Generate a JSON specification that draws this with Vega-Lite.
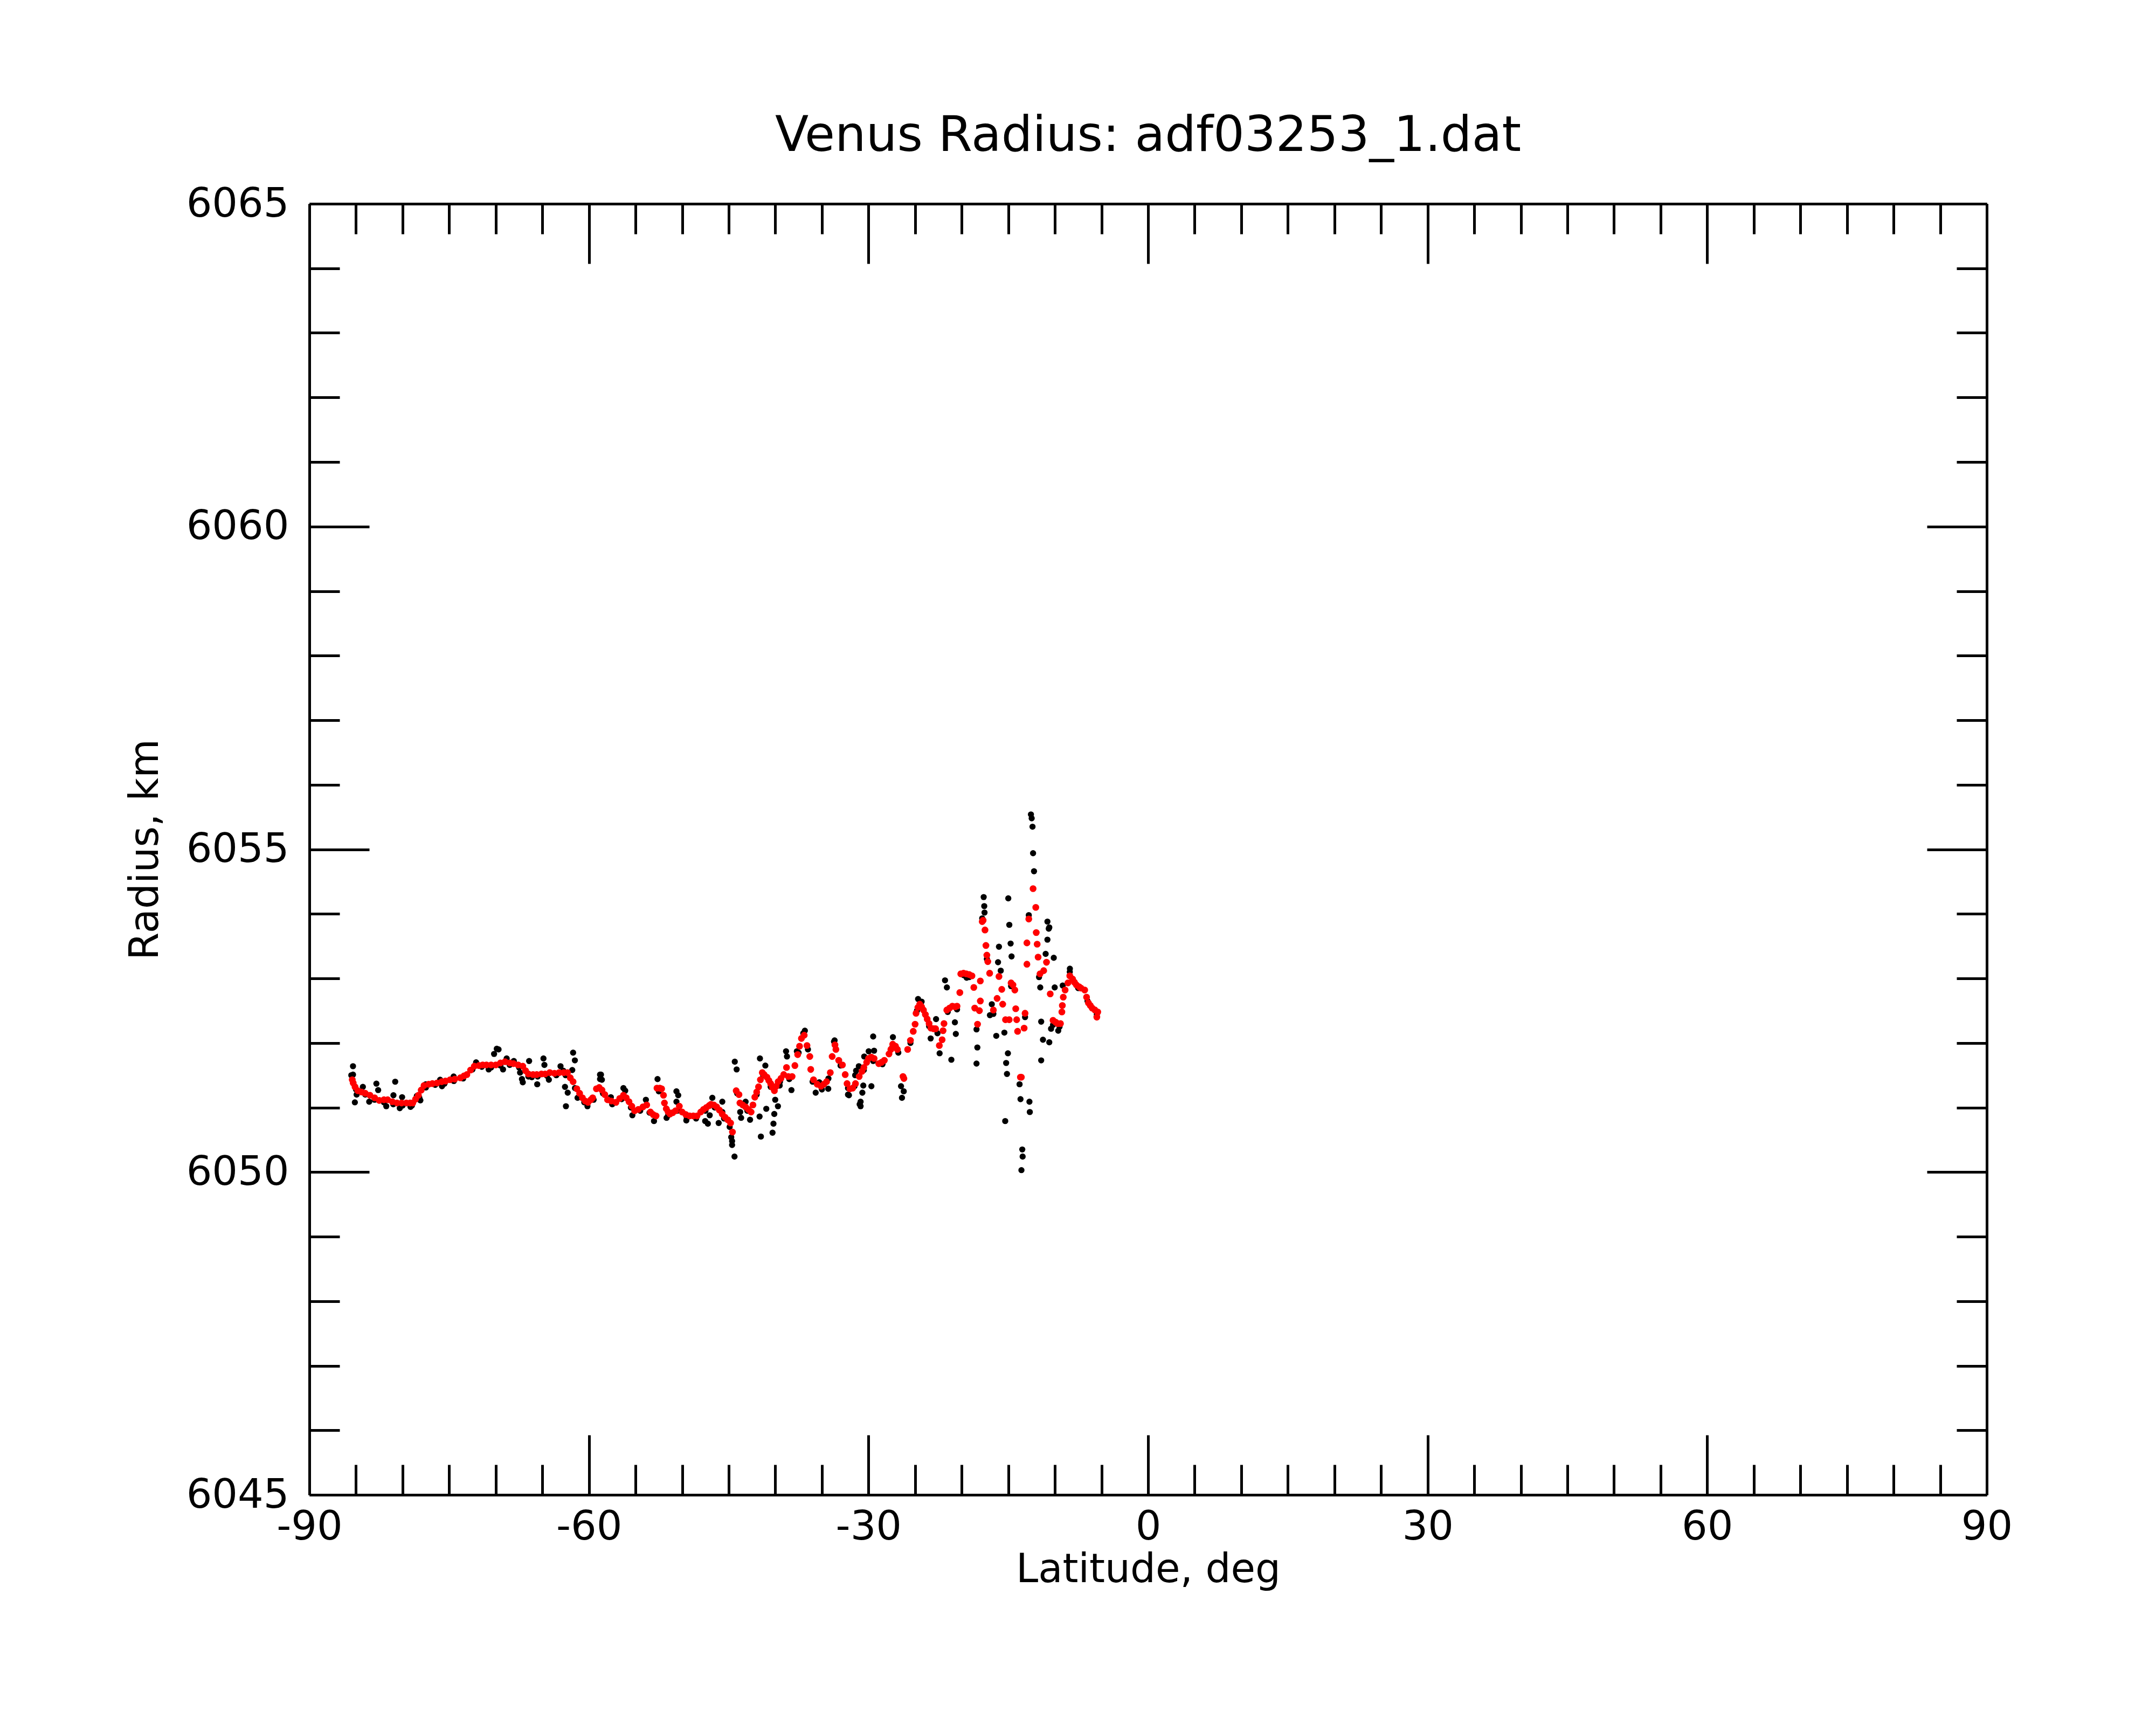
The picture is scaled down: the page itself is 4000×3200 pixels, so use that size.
{
  "$schema": "https://vega.github.io/schema/vega-lite/v6.json",
  "width": 3112,
  "height": 2395,
  "autosize": {"type": "none"},
  "padding": {"left": 574, "top": 378, "right": 314, "bottom": 427},
  "background": "white",
  "title": {
    "text": "Venus Radius: adf03253_1.dat",
    "font": "DejaVu Sans",
    "fontSize": 91,
    "fontWeight": "normal",
    "color": "black",
    "baseline": "alphabetic",
    "offset": -30
  },
  "config": {
    "view": {"stroke": null},
    "axis": {
      "grid": false,
      "labelFont": "DejaVu Sans",
      "titleFont": "DejaVu Sans",
      "labelFontSize": 75,
      "titleFontSize": 74,
      "titleFontWeight": "normal",
      "labelColor": "black",
      "titleColor": "black",
      "tickColor": "black",
      "domainColor": "black",
      "tickWidth": 5,
      "domainWidth": 5,
      "labelFlush": false,
      "labelOverlap": false,
      "labelBound": false,
      "labelLimit": 0,
      "labelExpr": "'' + datum.value"
    }
  },
  "datasets": {
    "raw": [
      {"lat": -85.5, "r": 6051.50}, {"lat": -85.0, "r": 6051.28}, {"lat": -84.0, "r": 6051.20}, {"lat": -83.0, "r": 6051.12},
      {"lat": -82.0, "r": 6051.08}, {"lat": -81.0, "r": 6051.05}, {"lat": -80.0, "r": 6051.03}, {"lat": -79.0, "r": 6051.03},
      {"lat": -78.2, "r": 6051.15}, {"lat": -77.5, "r": 6051.31}, {"lat": -76.5, "r": 6051.35}, {"lat": -75.5, "r": 6051.37},
      {"lat": -74.5, "r": 6051.41}, {"lat": -73.5, "r": 6051.45}, {"lat": -72.5, "r": 6051.59}, {"lat": -71.5, "r": 6051.63},
      {"lat": -70.5, "r": 6051.62}, {"lat": -69.5, "r": 6051.65}, {"lat": -68.5, "r": 6051.66}, {"lat": -67.5, "r": 6051.62},
      {"lat": -66.5, "r": 6051.48}, {"lat": -65.5, "r": 6051.48}, {"lat": -64.5, "r": 6051.49}, {"lat": -63.5, "r": 6051.50},
      {"lat": -62.5, "r": 6051.50}, {"lat": -61.5, "r": 6051.30}, {"lat": -60.5, "r": 6051.08}, {"lat": -59.5, "r": 6051.12},
      {"lat": -58.5, "r": 6051.22}, {"lat": -57.5, "r": 6051.05}, {"lat": -56.5, "r": 6051.13}, {"lat": -55.5, "r": 6051.00},
      {"lat": -54.5, "r": 6050.95}, {"lat": -53.5, "r": 6050.92}, {"lat": -52.5, "r": 6051.25}, {"lat": -51.5, "r": 6050.88},
      {"lat": -50.5, "r": 6050.95}, {"lat": -49.5, "r": 6050.84}, {"lat": -48.5, "r": 6050.83}, {"lat": -47.5, "r": 6050.95},
      {"lat": -46.5, "r": 6051.00}, {"lat": -45.5, "r": 6050.83}, {"lat": -44.9, "r": 6050.70}, {"lat": -44.1, "r": 6051.22},
      {"lat": -43.0, "r": 6050.95}, {"lat": -42.0, "r": 6051.20}, {"lat": -41.3, "r": 6051.50}, {"lat": -40.5, "r": 6051.32},
      {"lat": -39.5, "r": 6051.40}, {"lat": -38.5, "r": 6051.44}, {"lat": -37.5, "r": 6051.85}, {"lat": -37.0, "r": 6052.15},
      {"lat": -36.5, "r": 6051.90}, {"lat": -36.0, "r": 6051.40}, {"lat": -35.0, "r": 6051.28}, {"lat": -34.3, "r": 6051.45},
      {"lat": -33.7, "r": 6052.02}, {"lat": -33.0, "r": 6051.65}, {"lat": -32.2, "r": 6051.30}, {"lat": -31.5, "r": 6051.33},
      {"lat": -30.5, "r": 6051.58}, {"lat": -29.5, "r": 6051.72}, {"lat": -28.5, "r": 6051.67}, {"lat": -27.5, "r": 6051.92},
      {"lat": -26.8, "r": 6051.85}, {"lat": -25.5, "r": 6052.00}, {"lat": -24.8, "r": 6052.50}, {"lat": -24.3, "r": 6052.64},
      {"lat": -23.5, "r": 6052.26}, {"lat": -22.6, "r": 6052.15}, {"lat": -21.5, "r": 6052.48}, {"lat": -20.5, "r": 6052.52},
      {"lat": -19.8, "r": 6053.05}, {"lat": -19.2, "r": 6053.02}, {"lat": -17.8, "r": 6053.93}, {"lat": -17.3, "r": 6053.30},
      {"lat": -16.6, "r": 6052.45}, {"lat": -14.7, "r": 6052.88}, {"lat": -13.2, "r": 6052.40}, {"lat": -12.8, "r": 6053.98},
      {"lat": -11.7, "r": 6053.02}, {"lat": -10.2, "r": 6052.28}, {"lat": -9.5, "r": 6052.25}, {"lat": -8.4, "r": 6053.10},
      {"lat": -7.5, "r": 6052.85}, {"lat": -6.5, "r": 6052.65}, {"lat": -5.5, "r": 6052.44},
      {"lat": -85.32, "r": 6051.64}, {"lat": -85.32, "r": 6051.51}, {"lat": -85.12, "r": 6051.08}, {"lat": -84.93, "r": 6051.20},
      {"lat": -84.26, "r": 6051.32}, {"lat": -83.58, "r": 6051.09}, {"lat": -82.81, "r": 6051.37}, {"lat": -82.62, "r": 6051.27},
      {"lat": -81.75, "r": 6051.02}, {"lat": -80.98, "r": 6051.19}, {"lat": -80.79, "r": 6051.40}, {"lat": -80.30, "r": 6050.99},
      {"lat": -80.05, "r": 6051.16}, {"lat": -79.15, "r": 6051.01}, {"lat": -78.47, "r": 6051.18}, {"lat": -78.09, "r": 6051.11},
      {"lat": -77.51, "r": 6051.36}, {"lat": -75.97, "r": 6051.43}, {"lat": -75.77, "r": 6051.33}, {"lat": -74.52, "r": 6051.48},
      {"lat": -72.11, "r": 6051.70}, {"lat": -70.76, "r": 6051.59}, {"lat": -70.18, "r": 6051.83}, {"lat": -69.89, "r": 6051.91},
      {"lat": -69.70, "r": 6051.90}, {"lat": -69.22, "r": 6051.59}, {"lat": -68.83, "r": 6051.76}, {"lat": -68.06, "r": 6051.72},
      {"lat": -67.39, "r": 6051.54}, {"lat": -67.19, "r": 6051.44}, {"lat": -67.10, "r": 6051.39}, {"lat": -66.42, "r": 6051.72},
      {"lat": -66.13, "r": 6051.47}, {"lat": -65.55, "r": 6051.36}, {"lat": -64.88, "r": 6051.76}, {"lat": -64.78, "r": 6051.66},
      {"lat": -64.30, "r": 6051.43}, {"lat": -63.05, "r": 6051.64}, {"lat": -62.76, "r": 6051.57}, {"lat": -62.57, "r": 6051.32},
      {"lat": -62.47, "r": 6051.02}, {"lat": -62.28, "r": 6051.23}, {"lat": -61.70, "r": 6051.85}, {"lat": -61.51, "r": 6051.73},
      {"lat": -61.79, "r": 6051.58}, {"lat": -61.22, "r": 6051.15}, {"lat": -60.16, "r": 6051.02}, {"lat": -58.81, "r": 6051.51},
      {"lat": -58.81, "r": 6051.44},
      {"lat": -58.71, "r": 6051.51}, {"lat": -58.61, "r": 6051.43}, {"lat": -57.65, "r": 6051.16}, {"lat": -56.30, "r": 6051.30},
      {"lat": -56.11, "r": 6051.26}, {"lat": -55.34, "r": 6050.88}, {"lat": -53.89, "r": 6051.12}, {"lat": -53.02, "r": 6050.79},
      {"lat": -52.64, "r": 6051.44}, {"lat": -50.61, "r": 6051.25}, {"lat": -50.42, "r": 6051.19}, {"lat": -50.61, "r": 6051.09},
      {"lat": -51.67, "r": 6050.84}, {"lat": -49.55, "r": 6050.80}, {"lat": -47.53, "r": 6050.79}, {"lat": -47.24, "r": 6050.75},
      {"lat": -47.04, "r": 6050.88}, {"lat": -46.76, "r": 6051.15}, {"lat": -46.08, "r": 6050.76}, {"lat": -45.69, "r": 6051.09},
      {"lat": -45.69, "r": 6050.93}, {"lat": -44.35, "r": 6051.71}, {"lat": -44.15, "r": 6051.59}, {"lat": -44.73, "r": 6050.54},
      {"lat": -44.64, "r": 6050.48}, {"lat": -44.64, "r": 6050.42}, {"lat": -44.38, "r": 6050.24}, {"lat": -43.77, "r": 6050.93},
      {"lat": -43.67, "r": 6050.84}, {"lat": -43.19, "r": 6051.09}, {"lat": -42.71, "r": 6050.81}, {"lat": -41.65, "r": 6051.76},
      {"lat": -41.07, "r": 6051.65}, {"lat": -41.69, "r": 6050.86}, {"lat": -41.55, "r": 6050.55}, {"lat": -40.97, "r": 6050.98},
      {"lat": -40.30, "r": 6050.61}, {"lat": -40.20, "r": 6050.75}, {"lat": -40.11, "r": 6050.90}, {"lat": -40.01, "r": 6051.12},
      {"lat": -39.72, "r": 6051.02}, {"lat": -39.53, "r": 6051.34}, {"lat": -38.85, "r": 6051.87}, {"lat": -38.75, "r": 6051.79},
      {"lat": -38.27, "r": 6051.27}, {"lat": -37.69, "r": 6051.87}, {"lat": -36.83, "r": 6052.19}, {"lat": -35.67, "r": 6051.23},
      {"lat": -35.28, "r": 6051.39}, {"lat": -34.32, "r": 6051.29}, {"lat": -33.64, "r": 6052.04}, {"lat": -33.16, "r": 6051.73},
      {"lat": -32.20, "r": 6051.20}, {"lat": -31.04, "r": 6051.64}, {"lat": -30.95, "r": 6051.05},
      {"lat": -29.50, "r": 6052.10}, {"lat": -29.98, "r": 6051.87}, {"lat": -29.40, "r": 6051.88}, {"lat": -30.46, "r": 6051.79},
      {"lat": -31.33, "r": 6051.57}, {"lat": -31.43, "r": 6051.50}, {"lat": -30.56, "r": 6051.34}, {"lat": -29.69, "r": 6051.33},
      {"lat": -30.66, "r": 6051.23}, {"lat": -30.85, "r": 6051.09}, {"lat": -30.85, "r": 6051.02}, {"lat": -32.10, "r": 6051.19},
      {"lat": -26.41, "r": 6051.15}, {"lat": -26.51, "r": 6051.33}, {"lat": -26.22, "r": 6051.25}, {"lat": -27.38, "r": 6052.09},
      {"lat": -24.68, "r": 6052.68}, {"lat": -23.33, "r": 6052.07}, {"lat": -22.75, "r": 6052.37}, {"lat": -22.37, "r": 6051.84},
      {"lat": -21.79, "r": 6052.97}, {"lat": -21.59, "r": 6052.86}, {"lat": -21.11, "r": 6051.74}, {"lat": -20.73, "r": 6052.32},
      {"lat": -20.63, "r": 6052.14}, {"lat": -19.47, "r": 6053.01}, {"lat": -18.32, "r": 6051.93}, {"lat": -18.41, "r": 6051.68},
      {"lat": -18.41, "r": 6052.21}, {"lat": -16.10, "r": 6053.25}, {"lat": -16.00, "r": 6053.49}, {"lat": -15.81, "r": 6053.12},
      {"lat": -16.29, "r": 6052.11}, {"lat": -15.42, "r": 6052.16}, {"lat": -15.04, "r": 6051.84}, {"lat": -15.23, "r": 6051.69},
      {"lat": -15.14, "r": 6051.52}, {"lat": -15.33, "r": 6050.79}, {"lat": -14.89, "r": 6053.83}, {"lat": -14.75, "r": 6053.54},
      {"lat": -14.65, "r": 6053.34}, {"lat": -13.79, "r": 6051.36}, {"lat": -13.69, "r": 6051.13}, {"lat": -12.73, "r": 6051.09},
      {"lat": -12.69, "r": 6050.93}, {"lat": -13.50, "r": 6050.35}, {"lat": -13.46, "r": 6050.24}, {"lat": -13.59, "r": 6050.03},
      {"lat": -11.57, "r": 6052.86}, {"lat": -11.47, "r": 6052.33}, {"lat": -11.47, "r": 6051.73}, {"lat": -11.28, "r": 6052.05},
      {"lat": -10.60, "r": 6052.01}, {"lat": -10.80, "r": 6053.88}, {"lat": -10.66, "r": 6053.77}, {"lat": -10.80, "r": 6053.60},
      {"lat": -10.99, "r": 6053.38}, {"lat": -10.12, "r": 6053.32}, {"lat": -10.02, "r": 6052.86}, {"lat": -9.16, "r": 6052.89},
      {"lat": -10.41, "r": 6052.22}, {"lat": -9.64, "r": 6052.19}, {"lat": -8.39, "r": 6053.15}, {"lat": -16.97, "r": 6052.43},
      {"lat": -16.77, "r": 6052.60},
      {"lat": -12.57, "r": 6055.54}, {"lat": -12.49, "r": 6055.48}, {"lat": -12.40, "r": 6055.35}, {"lat": -12.34, "r": 6054.94},
      {"lat": -12.24, "r": 6054.66}, {"lat": -17.64, "r": 6054.26}, {"lat": -17.58, "r": 6054.12}, {"lat": -17.55, "r": 6054.02},
      {"lat": -15.00, "r": 6054.24}, {"lat": -10.60, "r": 6053.79}
    ],
    "smooth": [
      {"lat": -85.4, "r": 6051.43}, {"lat": -85.3, "r": 6051.38}, {"lat": -85.1, "r": 6051.32}, {"lat": -84.8, "r": 6051.26},
      {"lat": -84.4, "r": 6051.24}, {"lat": -84.0, "r": 6051.22}, {"lat": -83.5, "r": 6051.19}, {"lat": -83.0, "r": 6051.15},
      {"lat": -82.5, "r": 6051.11}, {"lat": -82.0, "r": 6051.12}, {"lat": -81.6, "r": 6051.12}, {"lat": -81.1, "r": 6051.09},
      {"lat": -80.6, "r": 6051.07}, {"lat": -80.1, "r": 6051.07}, {"lat": -79.6, "r": 6051.07}, {"lat": -79.2, "r": 6051.07},
      {"lat": -78.9, "r": 6051.07}, {"lat": -78.6, "r": 6051.13}, {"lat": -78.3, "r": 6051.19}, {"lat": -78.0, "r": 6051.27},
      {"lat": -77.7, "r": 6051.34}, {"lat": -77.2, "r": 6051.36}, {"lat": -76.8, "r": 6051.37}, {"lat": -76.3, "r": 6051.38},
      {"lat": -75.8, "r": 6051.40}, {"lat": -75.4, "r": 6051.41}, {"lat": -74.9, "r": 6051.43}, {"lat": -74.4, "r": 6051.44},
      {"lat": -73.8, "r": 6051.46}, {"lat": -73.4, "r": 6051.49}, {"lat": -73.1, "r": 6051.51}, {"lat": -72.7, "r": 6051.58},
      {"lat": -72.3, "r": 6051.64}, {"lat": -71.8, "r": 6051.65}, {"lat": -71.4, "r": 6051.66}, {"lat": -71.0, "r": 6051.66},
      {"lat": -70.5, "r": 6051.66}, {"lat": -70.0, "r": 6051.66}, {"lat": -69.5, "r": 6051.69}, {"lat": -69.0, "r": 6051.71},
      {"lat": -68.5, "r": 6051.69}, {"lat": -68.1, "r": 6051.68}, {"lat": -67.6, "r": 6051.66}, {"lat": -67.1, "r": 6051.64},
      {"lat": -66.8, "r": 6051.57}, {"lat": -66.5, "r": 6051.52}, {"lat": -66.0, "r": 6051.51}, {"lat": -65.6, "r": 6051.51},
      {"lat": -65.1, "r": 6051.52}, {"lat": -64.7, "r": 6051.52}, {"lat": -64.2, "r": 6051.54}, {"lat": -63.7, "r": 6051.53},
      {"lat": -63.2, "r": 6051.54}, {"lat": -62.7, "r": 6051.54}, {"lat": -62.3, "r": 6051.54}, {"lat": -62.0, "r": 6051.46},
      {"lat": -61.7, "r": 6051.40}, {"lat": -61.3, "r": 6051.29}, {"lat": -61.0, "r": 6051.22}, {"lat": -60.7, "r": 6051.15},
      {"lat": -60.4, "r": 6051.10}, {"lat": -60.1, "r": 6051.08}, {"lat": -59.8, "r": 6051.12}, {"lat": -59.6, "r": 6051.15},
      {"lat": -59.2, "r": 6051.29}, {"lat": -58.9, "r": 6051.31}, {"lat": -58.6, "r": 6051.27}, {"lat": -58.3, "r": 6051.20},
      {"lat": -58.0, "r": 6051.12}, {"lat": -57.6, "r": 6051.10}, {"lat": -57.1, "r": 6051.08}, {"lat": -56.7, "r": 6051.14},
      {"lat": -56.3, "r": 6051.19}, {"lat": -56.0, "r": 6051.15}, {"lat": -55.7, "r": 6051.09}, {"lat": -55.4, "r": 6051.02},
      {"lat": -55.1, "r": 6050.95}, {"lat": -54.7, "r": 6050.97}, {"lat": -54.2, "r": 6051.01}, {"lat": -53.8, "r": 6051.04},
      {"lat": -53.4, "r": 6050.93}, {"lat": -53.1, "r": 6050.89}, {"lat": -52.8, "r": 6050.87}, {"lat": -52.7, "r": 6051.30},
      {"lat": -52.4, "r": 6051.30}, {"lat": -52.2, "r": 6051.29}, {"lat": -52.0, "r": 6051.19}, {"lat": -51.9, "r": 6051.07},
      {"lat": -51.7, "r": 6050.98}, {"lat": -51.5, "r": 6050.93}, {"lat": -51.3, "r": 6050.90}, {"lat": -51.0, "r": 6050.92},
      {"lat": -50.7, "r": 6050.95}, {"lat": -50.3, "r": 6051.02}, {"lat": -50.0, "r": 6050.93}, {"lat": -49.6, "r": 6050.89},
      {"lat": -49.2, "r": 6050.87}, {"lat": -48.8, "r": 6050.87}, {"lat": -48.4, "r": 6050.87}, {"lat": -48.0, "r": 6050.93},
      {"lat": -47.7, "r": 6050.97}, {"lat": -47.4, "r": 6051.00}, {"lat": -47.1, "r": 6051.03}, {"lat": -46.9, "r": 6051.05},
      {"lat": -46.6, "r": 6051.04}, {"lat": -46.3, "r": 6051.01}, {"lat": -46.0, "r": 6050.96}, {"lat": -45.7, "r": 6050.90},
      {"lat": -45.4, "r": 6050.85}, {"lat": -45.1, "r": 6050.81}, {"lat": -44.8, "r": 6050.76}, {"lat": -44.6, "r": 6050.62},
      {"lat": -44.2, "r": 6051.26}, {"lat": -43.9, "r": 6051.20}, {"lat": -43.8, "r": 6051.07}, {"lat": -43.5, "r": 6051.04},
      {"lat": -43.2, "r": 6051.01}, {"lat": -42.9, "r": 6050.97}, {"lat": -42.6, "r": 6050.93}, {"lat": -42.4, "r": 6051.04},
      {"lat": -42.2, "r": 6051.16}, {"lat": -42.0, "r": 6051.24}, {"lat": -41.8, "r": 6051.32}, {"lat": -41.6, "r": 6051.43},
      {"lat": -41.4, "r": 6051.54}, {"lat": -41.2, "r": 6051.51}, {"lat": -40.9, "r": 6051.47}, {"lat": -40.7, "r": 6051.42},
      {"lat": -40.5, "r": 6051.37}, {"lat": -40.3, "r": 6051.31}, {"lat": -40.1, "r": 6051.26}, {"lat": -39.9, "r": 6051.33},
      {"lat": -39.7, "r": 6051.40}, {"lat": -39.4, "r": 6051.45}, {"lat": -39.1, "r": 6051.51}, {"lat": -38.8, "r": 6051.62},
      {"lat": -38.6, "r": 6051.48}, {"lat": -38.2, "r": 6051.48}, {"lat": -37.9, "r": 6051.65}, {"lat": -37.6, "r": 6051.82},
      {"lat": -37.4, "r": 6051.95}, {"lat": -37.2, "r": 6052.07}, {"lat": -36.9, "r": 6052.12}, {"lat": -36.6, "r": 6051.96},
      {"lat": -36.3, "r": 6051.79}, {"lat": -36.2, "r": 6051.59}, {"lat": -35.9, "r": 6051.43}, {"lat": -35.5, "r": 6051.36},
      {"lat": -35.1, "r": 6051.33}, {"lat": -34.8, "r": 6051.36}, {"lat": -34.5, "r": 6051.40}, {"lat": -34.1, "r": 6051.54},
      {"lat": -33.9, "r": 6051.79}, {"lat": -33.6, "r": 6051.97}, {"lat": -33.5, "r": 6051.90}, {"lat": -33.2, "r": 6051.73},
      {"lat": -32.8, "r": 6051.66}, {"lat": -32.5, "r": 6051.51}, {"lat": -32.3, "r": 6051.37}, {"lat": -32.0, "r": 6051.29},
      {"lat": -31.7, "r": 6051.30}, {"lat": -31.4, "r": 6051.37}, {"lat": -31.0, "r": 6051.48}, {"lat": -30.7, "r": 6051.56},
      {"lat": -30.5, "r": 6051.62}, {"lat": -30.2, "r": 6051.70}, {"lat": -30.0, "r": 6051.76}, {"lat": -29.7, "r": 6051.78},
      {"lat": -29.4, "r": 6051.76}, {"lat": -28.9, "r": 6051.68}, {"lat": -28.6, "r": 6051.70}, {"lat": -28.3, "r": 6051.73},
      {"lat": -27.8, "r": 6051.83}, {"lat": -27.6, "r": 6051.90}, {"lat": -27.4, "r": 6051.98}, {"lat": -27.1, "r": 6051.95},
      {"lat": -26.9, "r": 6051.90}, {"lat": -26.3, "r": 6051.48}, {"lat": -26.2, "r": 6051.45}, {"lat": -25.8, "r": 6051.90},
      {"lat": -25.5, "r": 6052.04}, {"lat": -25.2, "r": 6052.18}, {"lat": -25.0, "r": 6052.29}, {"lat": -24.9, "r": 6052.46},
      {"lat": -24.7, "r": 6052.55}, {"lat": -24.5, "r": 6052.60}, {"lat": -24.3, "r": 6052.56}, {"lat": -24.1, "r": 6052.51},
      {"lat": -23.9, "r": 6052.44}, {"lat": -23.7, "r": 6052.37}, {"lat": -23.5, "r": 6052.30}, {"lat": -23.3, "r": 6052.23},
      {"lat": -23.0, "r": 6052.22}, {"lat": -22.8, "r": 6052.22}, {"lat": -22.4, "r": 6051.96}, {"lat": -22.1, "r": 6052.05},
      {"lat": -22.0, "r": 6052.19}, {"lat": -21.9, "r": 6052.30}, {"lat": -21.6, "r": 6052.51}, {"lat": -21.3, "r": 6052.54},
      {"lat": -21.0, "r": 6052.57}, {"lat": -20.7, "r": 6052.56}, {"lat": -20.5, "r": 6052.57}, {"lat": -20.2, "r": 6052.78},
      {"lat": -20.1, "r": 6053.07}, {"lat": -19.8, "r": 6053.08}, {"lat": -19.5, "r": 6053.07}, {"lat": -19.2, "r": 6053.06},
      {"lat": -18.9, "r": 6053.04}, {"lat": -18.7, "r": 6052.86}, {"lat": -18.6, "r": 6052.54}, {"lat": -18.3, "r": 6052.29},
      {"lat": -18.1, "r": 6052.50}, {"lat": -18.0, "r": 6052.65}, {"lat": -18.0, "r": 6052.96}, {"lat": -17.8, "r": 6053.88},
      {"lat": -17.7, "r": 6053.90}, {"lat": -17.5, "r": 6053.75}, {"lat": -17.4, "r": 6053.51}, {"lat": -17.3, "r": 6053.36},
      {"lat": -17.2, "r": 6053.26}, {"lat": -17.0, "r": 6053.08}, {"lat": -16.6, "r": 6052.51}, {"lat": -16.2, "r": 6052.69},
      {"lat": -16.0, "r": 6053.03}, {"lat": -15.7, "r": 6052.83}, {"lat": -15.6, "r": 6052.60}, {"lat": -15.3, "r": 6052.36},
      {"lat": -14.9, "r": 6052.36}, {"lat": -14.7, "r": 6052.93}, {"lat": -14.5, "r": 6052.90}, {"lat": -14.3, "r": 6052.82},
      {"lat": -14.2, "r": 6052.53}, {"lat": -14.1, "r": 6052.36}, {"lat": -14.0, "r": 6052.18}, {"lat": -13.7, "r": 6051.47},
      {"lat": -13.6, "r": 6051.47}, {"lat": -13.3, "r": 6052.23}, {"lat": -13.2, "r": 6052.46}, {"lat": -13.0, "r": 6053.22},
      {"lat": -13.0, "r": 6053.55}, {"lat": -12.8, "r": 6053.92}, {"lat": -12.34, "r": 6054.39}, {"lat": -12.05, "r": 6054.10},
      {"lat": -12.0, "r": 6053.71}, {"lat": -11.9, "r": 6053.53}, {"lat": -11.8, "r": 6053.33}, {"lat": -11.6, "r": 6053.07},
      {"lat": -11.2, "r": 6053.12}, {"lat": -10.9, "r": 6053.25}, {"lat": -10.5, "r": 6052.76}, {"lat": -10.2, "r": 6052.35},
      {"lat": -9.9, "r": 6052.32}, {"lat": -9.7, "r": 6052.30}, {"lat": -9.4, "r": 6052.30}, {"lat": -9.25, "r": 6052.48},
      {"lat": -9.2, "r": 6052.58}, {"lat": -9.1, "r": 6052.71}, {"lat": -8.9, "r": 6052.82}, {"lat": -8.6, "r": 6052.93},
      {"lat": -8.4, "r": 6053.04}, {"lat": -8.1, "r": 6052.99}, {"lat": -7.9, "r": 6052.94}, {"lat": -7.7, "r": 6052.90},
      {"lat": -7.4, "r": 6052.87}, {"lat": -7.2, "r": 6052.85}, {"lat": -6.8, "r": 6052.82}, {"lat": -6.6, "r": 6052.71},
      {"lat": -6.4, "r": 6052.62}, {"lat": -6.2, "r": 6052.58}, {"lat": -6.0, "r": 6052.54}, {"lat": -5.7, "r": 6052.51},
      {"lat": -5.4, "r": 6052.48}, {"lat": -5.5, "r": 6052.40}
    ]
  },
  "resolve": {"axis": {"x": "independent", "y": "independent"}},
  "layer": [
    {
      "data": {"name": "raw"},
      "mark": {"type": "circle", "color": "black", "opacity": 1, "size": 130},
      "encoding": {
        "x": {
          "field": "lat", "type": "quantitative",
          "scale": {"domain": [-90, 90], "nice": false, "zero": false},
          "axis": {"orient": "bottom", "title": "Latitude, deg", "values": [-90, -60, -30, 0, 30, 60, 90], "tickSize": -111, "labelPadding": 134, "titlePadding": 6}
        },
        "y": {
          "field": "r", "type": "quantitative",
          "scale": {"domain": [6045, 6065], "nice": false, "zero": false},
          "axis": {"orient": "left", "title": "Radius, km", "values": [6045, 6050, 6055, 6060, 6065], "tickSize": -111, "labelPadding": 149, "titlePadding": 66}
        }
      }
    },
    {
      "data": {"name": "smooth"},
      "mark": {"type": "circle", "color": "#ff0000", "opacity": 1, "size": 160},
      "encoding": {
        "x": {
          "field": "lat", "type": "quantitative",
          "axis": {"orient": "bottom", "title": null, "labels": false, "domain": false, "tickSize": -56,
            "values": [-85, -80, -75, -70, -65, -55, -50, -45, -40, -35, -25, -20, -15, -10, -5, 5, 10, 15, 20, 25, 35, 40, 45, 50, 55, 65, 70, 75, 80, 85]}
        },
        "y": {
          "field": "r", "type": "quantitative",
          "axis": {"orient": "left", "title": null, "labels": false, "domain": false, "tickSize": -56,
            "values": [6046, 6047, 6048, 6049, 6051, 6052, 6053, 6054, 6056, 6057, 6058, 6059, 6061, 6062, 6063, 6064]}
        }
      }
    },
    {
      "data": {"name": "raw"},
      "mark": {"type": "circle", "opacity": 0},
      "encoding": {
        "x": {
          "field": "lat", "type": "quantitative",
          "axis": {"orient": "top", "title": null, "labels": false, "values": [-90, -60, -30, 0, 30, 60, 90], "tickSize": -111}
        },
        "y": {
          "field": "r", "type": "quantitative",
          "axis": {"orient": "right", "title": null, "labels": false, "values": [6045, 6050, 6055, 6060, 6065], "tickSize": -111}
        }
      }
    },
    {
      "data": {"name": "raw"},
      "mark": {"type": "circle", "opacity": 0},
      "encoding": {
        "x": {
          "field": "lat", "type": "quantitative",
          "axis": {"orient": "top", "title": null, "labels": false, "domain": false, "tickSize": -56,
            "values": [-85, -80, -75, -70, -65, -55, -50, -45, -40, -35, -25, -20, -15, -10, -5, 5, 10, 15, 20, 25, 35, 40, 45, 50, 55, 65, 70, 75, 80, 85]}
        },
        "y": {
          "field": "r", "type": "quantitative",
          "axis": {"orient": "right", "title": null, "labels": false, "domain": false, "tickSize": -56,
            "values": [6046, 6047, 6048, 6049, 6051, 6052, 6053, 6054, 6056, 6057, 6058, 6059, 6061, 6062, 6063, 6064]}
        }
      }
    }
  ]
}
